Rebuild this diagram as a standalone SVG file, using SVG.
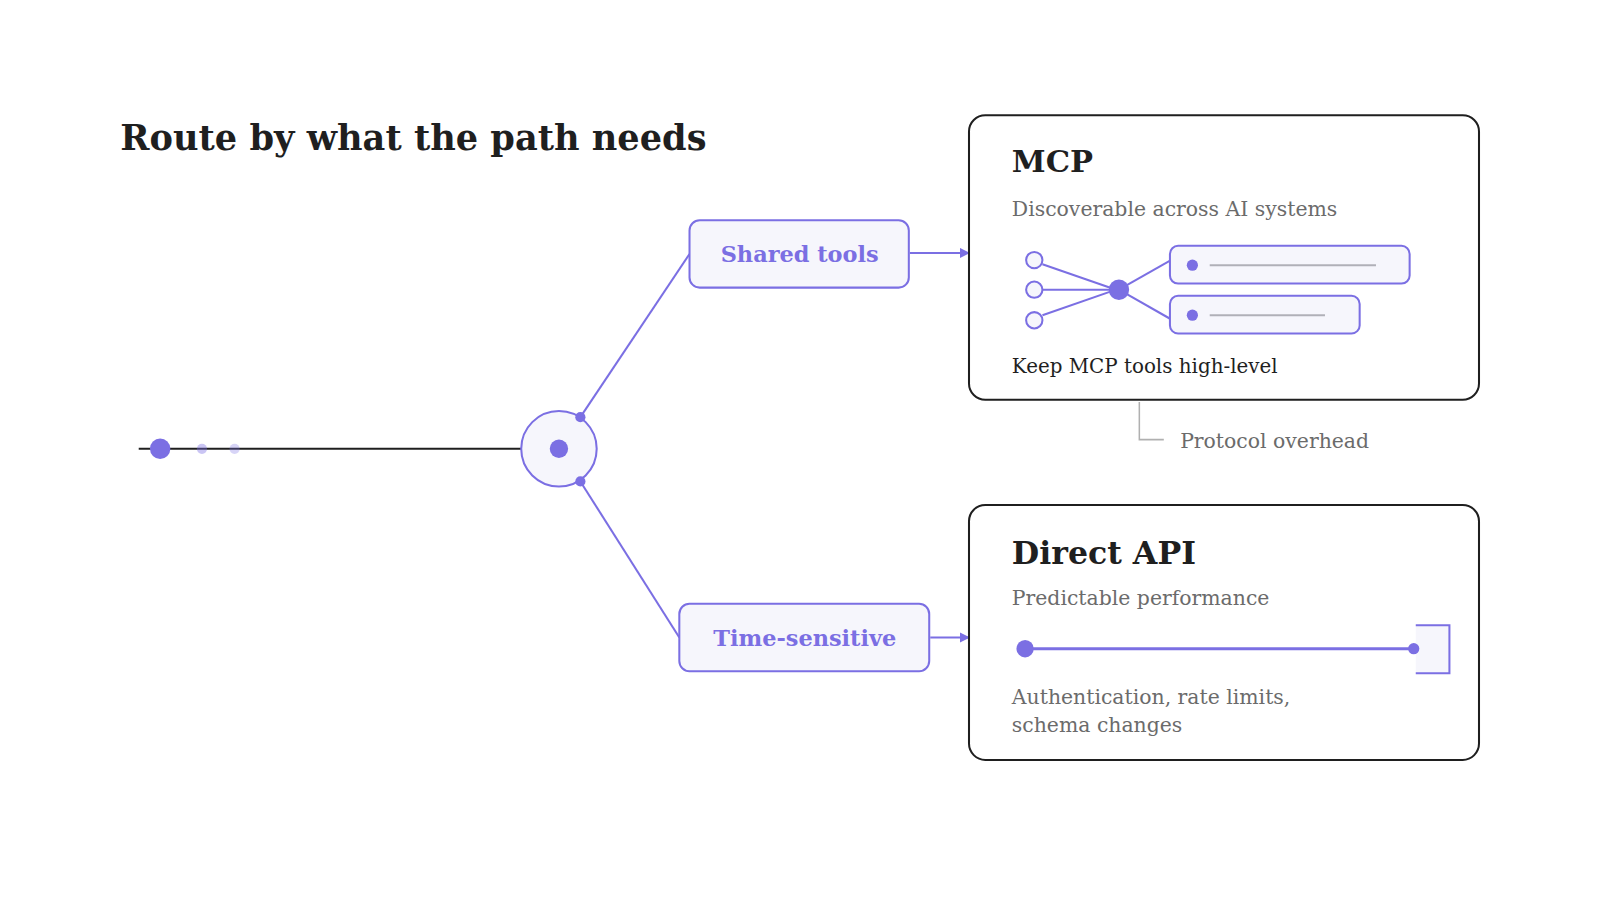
<svg xmlns="http://www.w3.org/2000/svg" width="1600" height="900" viewBox="0 0 1600 900">
<defs>
<marker id="arr" viewBox="0 0 10 10" refX="9" refY="5" markerWidth="5" markerHeight="5" orient="auto"><path d="M0,0 L10,5 L0,10 z" fill="#7B6FE3"/></marker>
<style>
.t{font-family:"DejaVu Serif","Liberation Serif",serif}
.p{stroke:#7B6FE3;stroke-width:2;fill:none}
.card{fill:#fff;stroke:#1f1f1f;stroke-width:2}
.pill{fill:#F6F6FC;stroke:#7B6FE3;stroke-width:2}
.g{fill:#6b6b6b;font-size:20px}
.lbl{fill:#7B6FE3;font-size:22px;font-weight:bold}
</style>
</defs>
<rect width="1600" height="900" fill="#fff"/>
<g transform="scale(1.02)">
<text class="t" x="118" y="147" font-size="34.5" font-weight="bold" fill="#1f1f1f">Route by what the path needs</text>

<g id="connectors">
<line x1="136" y1="440" x2="512" y2="440" stroke="#1f1f1f" stroke-width="2"/>
<line class="p" x1="569" y1="409" x2="676" y2="249"/>
<line class="p" x1="569" y1="472" x2="666" y2="625"/>
<line class="p" x1="892" y1="248" x2="950" y2="248" marker-end="url(#arr)"/>
<line class="p" x1="912" y1="625" x2="950" y2="625" marker-end="url(#arr)"/>
<polyline points="1117,394 1117,431 1141,431" fill="none" stroke="#b0b0b0" stroke-width="1.5"/>
</g>

<g id="start">
<circle cx="157" cy="440" r="10" fill="#7B6FE3"/>
<circle cx="198" cy="440" r="5" fill="#7B6FE3" opacity="0.4"/>
<circle cx="230" cy="440" r="5" fill="#7B6FE3" opacity="0.3"/>
</g>

<g id="router">
<circle cx="548" cy="440" r="37" fill="#F6F6FC" stroke="#7B6FE3" stroke-width="2"/>
<circle cx="548" cy="440" r="9" fill="#7B6FE3"/>
<circle cx="569" cy="409" r="5" fill="#7B6FE3"/>
<circle cx="569" cy="472" r="5" fill="#7B6FE3"/>
</g>

<g id="shared-tools">
<rect class="pill" x="676" y="216" width="215" height="66" rx="10"/>
<text class="t lbl" x="784" y="257" text-anchor="middle">Shared tools</text>
</g>

<g id="time-sensitive">
<rect class="pill" x="666" y="592" width="245" height="66" rx="10"/>
<text class="t lbl" x="789" y="633" text-anchor="middle">Time-sensitive</text>
</g>

<g id="mcp">
<rect class="card" x="950" y="113" width="500" height="279" rx="16"/>
<text class="t" x="992" y="169" font-size="30" font-weight="bold" fill="#1f1f1f">MCP</text>
<text class="t g" x="992" y="212">Discoverable across AI systems</text>
<line class="p" x1="1022" y1="259" x2="1097" y2="285"/>
<line class="p" x1="1022" y1="284" x2="1097" y2="284"/>
<line class="p" x1="1022" y1="309" x2="1097" y2="283"/>
<line class="p" x1="1097" y1="284" x2="1148" y2="255"/>
<line class="p" x1="1097" y1="284" x2="1148" y2="313"/>
<circle cx="1014" cy="255" r="8" fill="#F6F6FC" stroke="#7B6FE3" stroke-width="2"/>
<circle cx="1014" cy="284" r="8" fill="#F6F6FC" stroke="#7B6FE3" stroke-width="2"/>
<circle cx="1014" cy="314" r="8" fill="#F6F6FC" stroke="#7B6FE3" stroke-width="2"/>
<circle cx="1097" cy="284" r="10" fill="#7B6FE3"/>
<rect class="pill" x="1147" y="241" width="235" height="37" rx="8"/>
<circle cx="1169" cy="260" r="5.5" fill="#7B6FE3"/>
<line x1="1186" y1="260" x2="1349" y2="260" stroke="#b0b0b8" stroke-width="2"/>
<rect class="pill" x="1147" y="290" width="186" height="37" rx="8"/>
<circle cx="1169" cy="309" r="5.5" fill="#7B6FE3"/>
<line x1="1186" y1="309" x2="1299" y2="309" stroke="#b0b0b8" stroke-width="2"/>
<text class="t" x="992" y="366" font-size="19.5" fill="#1f1f1f">Keep MCP tools high-level</text>
</g>

<g id="protocol-overhead">
<text class="t g" x="1157" y="439">Protocol overhead</text>
</g>

<g id="direct-api">
<rect class="card" x="950" y="495" width="500" height="250" rx="16"/>
<text class="t" x="992" y="553" font-size="31" font-weight="bold" fill="#1f1f1f">Direct API</text>
<text class="t g" x="992" y="593">Predictable performance</text>
<polyline points="1388,613 1421,613 1421,660 1388,660" fill="#F6F6FC" stroke="#7B6FE3" stroke-width="2"/>
<line x1="1005" y1="636" x2="1386" y2="636" stroke="#7B6FE3" stroke-width="3"/>
<circle cx="1005" cy="636" r="8.5" fill="#7B6FE3"/>
<circle cx="1386" cy="636" r="5.5" fill="#7B6FE3"/>
<text class="t g" x="992" y="690">Authentication, rate limits,</text>
<text class="t g" x="992" y="718">schema changes</text>
</g>
</g>
</svg>
